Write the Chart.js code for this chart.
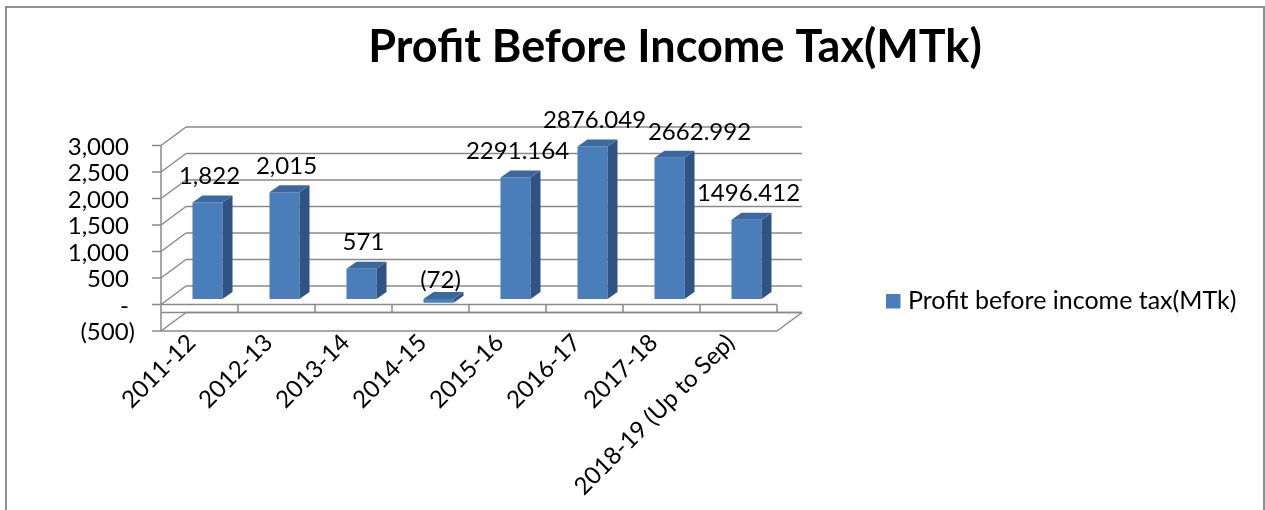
<!DOCTYPE html>
<html>
<head>
<meta charset="utf-8">
<script src="https://cdn.jsdelivr.net/npm/chart.js@4.4.0/dist/chart.umd.min.js"></script>
<style>
  html, body { margin: 0; padding: 0; background: #fff; }
  #wrap { position: relative; width: 1265px; height: 510px; overflow: hidden; }
  #frame { position: absolute; left: 5px; top: 6px; width: 1260px; height: 560px; box-sizing: border-box; border: 2px solid #8f8f8f; }
  canvas { position: absolute; left: 0; top: 0; }
</style>
</head>
<body>
<div id="wrap">
  <div id="frame"></div>
  <canvas id="profitChart" width="1350" height="510"></canvas>
</div>
<script>
var years = ['2011-12', '2012-13', '2013-14', '2014-15', '2015-16', '2016-17', '2017-18', '2018-19 (Up to Sep)'];
var profit = [1822, 2015, 571, -72, 2291.164, 2876.049, 2662.992, 1496.412];
var yTicks = [-500, 0, 500, 1000, 1500, 2000, 2500, 3000];
var seriesName = 'Profit before income tax(MTk)';
var chartTitle = 'Profit Before Income Tax(MTk)';

// 3d look
var barDX = 10, barDY = -7;
var wallDX = 25, wallDY = -18.5;
var frontShift = -8, frontDown = 5.5;
var gridColor = '#8a8a8a';
var font = 'Lato';

function fmtAxis(v) {
  if (v === 0) return '- ';
  if (v < 0) return '(' + Math.abs(v).toLocaleString('en-US') + ')';
  return v.toLocaleString('en-US') + ' ';
}
function fmtValue(v) {
  if (Number.isInteger(v)) {
    return v < 0 ? '(' + Math.abs(v).toLocaleString('en-US') + ')' : v.toLocaleString('en-US');
  }
  return v.toFixed(3);
}

function line(ctx, x1, y1, x2, y2) {
  ctx.beginPath();
  ctx.moveTo(x1, y1);
  ctx.lineTo(x2, y2);
  ctx.stroke();
}

const wallPlugin = {
  id: 'wall3d',
  beforeDatasetsDraw(chart) {
    const ctx = chart.ctx, ys = chart.scales.y, area = chart.chartArea;
    const x0 = area.left + frontShift, x1 = area.right + frontShift;
    const step = (area.right - area.left) / years.length;
    const yf = v => ys.getPixelForValue(v) + frontDown;
    ctx.save();
    ctx.strokeStyle = gridColor;
    ctx.lineWidth = 1.5;
    yTicks.forEach(v => {
      const f = yf(v), b = f + wallDY;
      line(ctx, x0 + wallDX, b, x1 + wallDX, b);
      line(ctx, x0, f, x0 + wallDX, b);
      line(ctx, x0 - 9, f, x0, f);
    });
    // front axis
    line(ctx, x0, yf(3000), x0, yf(-500));
    // floor
    const ff = yf(-500), fb = ff + wallDY;
    line(ctx, x0, ff, x1, ff);
    line(ctx, x1, ff, x1 + wallDX, fb);
    line(ctx, x0, fb, x1 + wallDX, fb);
    // category axis band at zero
    const z = yf(0);
    line(ctx, x0, z, x1, z);
    for (let i = 1; i <= years.length; i++) {
      const bx = x0 + i * step;
      line(ctx, bx, z, bx, fb);
    }
    ctx.restore();
  },
  afterDatasetsDraw(chart) {
    const ctx = chart.ctx;
    const meta = chart.getDatasetMeta(0);
    ctx.save();
    meta.data.forEach(bar => {
      const p = bar.getProps(['x', 'y', 'base', 'width'], true);
      const l = p.x - p.width / 2, r = p.x + p.width / 2;
      const top = Math.min(p.y, p.base), bot = Math.max(p.y, p.base);
      ctx.fillStyle = '#2f5382';
      ctx.beginPath();
      ctx.moveTo(r, top); ctx.lineTo(r + barDX, top + barDY);
      ctx.lineTo(r + barDX, bot + barDY); ctx.lineTo(r, bot);
      ctx.closePath(); ctx.fill();
      ctx.fillStyle = '#3c68a0';
      ctx.beginPath();
      ctx.moveTo(l, top); ctx.lineTo(l + barDX, top + barDY);
      ctx.lineTo(r + barDX, top + barDY); ctx.lineTo(r, top);
      ctx.closePath(); ctx.fill();
    });
    // value labels
    const shift = {6: 28};
    ctx.font = '24px ' + font;
    ctx.fillStyle = '#000';
    ctx.textAlign = 'center';
    ctx.textBaseline = 'middle';
    meta.data.forEach((bar, i) => {
      const v = profit[i];
      const top = Math.min(bar.y, bar.base);
      ctx.fillText(fmtValue(v), bar.x + 2 + (shift[i] || 0), top - (v < 0 ? 19 : 26));
    });
    ctx.restore();
  }
};

// legend sits far right of the plot, drawn by hand
const sideLegend = {
  id: 'sideLegend',
  afterDraw(chart) {
    const ctx = chart.ctx;
    ctx.save();
    chart.data.datasets.forEach((ds, i) => {
      const y = 301 + i * 30;
      ctx.fillStyle = ds.backgroundColor;
      ctx.fillRect(886, y - 7, 14.5, 14.5);
      ctx.fillStyle = '#000';
      ctx.font = '25px ' + font;
      ctx.textAlign = 'left';
      ctx.textBaseline = 'middle';
      ctx.fillText(ds.label, 908, y);
    });
    ctx.restore();
  }
};

new Chart(document.getElementById('profitChart'), {
  type: 'bar',
  data: {
    labels: years,
    datasets: [{
      label: seriesName,
      data: profit,
      yAxisID: 'y',
      backgroundColor: '#4a7ebb',
      borderWidth: 0,
      barPercentage: 0.39,
      categoryPercentage: 1
    }]
  },
  options: {
    responsive: false,
    animation: false,
    devicePixelRatio: 1,
    layout: { padding: 0 },
    plugins: {
      title: {
        display: true,
        text: chartTitle,
        color: '#000',
        font: { family: font, size: 45, weight: 'bold', lineHeight: 1.2 },
        padding: { top: 20, bottom: 66 }
      },
      legend: { display: false },
      tooltip: { enabled: false }
    },
    scales: {
      x: {
        grid: { display: false, drawTicks: false },
        border: { display: false },
        ticks: {
          color: '#000',
          font: { family: font, size: 24 },
          minRotation: 45,
          maxRotation: 45,
          autoSkip: false,
          padding: 3,
          labelOffset: -16
        },
        afterFit(s) { s.height = 184.5; }
      },
      y: {
        min: -500,
        max: 3000,
        grid: { display: false, drawTicks: false },
        border: { display: false },
        afterBuildTicks(s) { s.ticks = yTicks.map(v => ({ value: v })); },
        ticks: {
          color: '#000',
          font: { family: font, size: 24 },
          autoSkip: false,
          padding: 34,
          labelOffset: 7,
          callback: v => fmtAxis(v)
        },
        afterFit(s) { s.width = 169; }
      },
      yR: {
        position: 'right',
        grid: { display: false, drawTicks: false },
        border: { display: false },
        ticks: { display: false },
        afterFit(s) { s.width = 565; }
      }
    }
  },
  plugins: [wallPlugin, sideLegend]
});
</script>
</body>
</html>
